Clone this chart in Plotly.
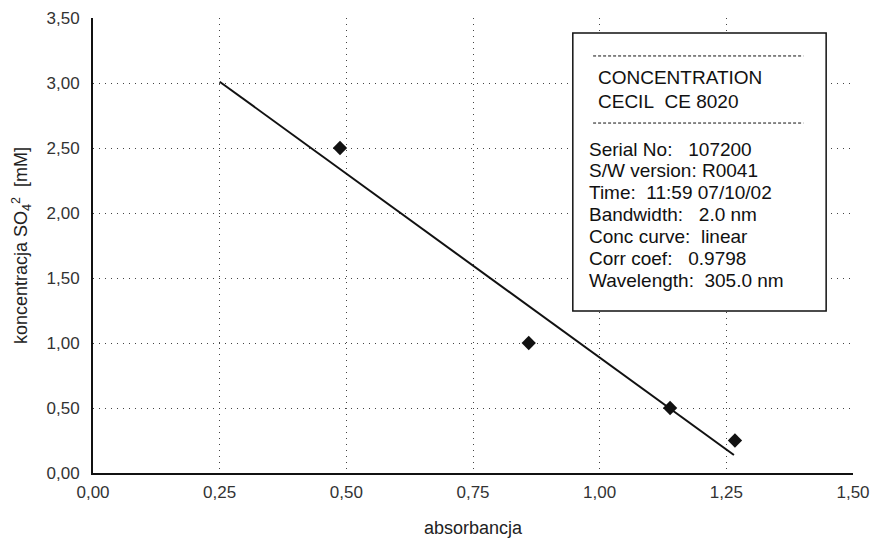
import plotly.graph_objects as go

# Measured samples: absorbance vs sulfate concentration
absorbance = [0.4875, 0.860, 1.139, 1.267]
concentration = [2.50, 1.00, 0.50, 0.25]

# Calibration line end points
fit_x = [0.25, 1.265]
fit_y = [3.01, 0.138]

x_ticks = [0.0, 0.25, 0.5, 0.75, 1.0, 1.25, 1.5]
x_tick_labels = ["0,00", "0,25", "0,50", "0,75", "1,00", "1,25", "1,50"]
y_ticks = [0.0, 0.5, 1.0, 1.5, 2.0, 2.5, 3.0, 3.5]
y_tick_labels = ["0,00", "0,50", "1,00", "1,50", "2,00", "2,50", "3,00", "3,50"]

info_header = ["CONCENTRATION", "CECIL\u00a0\u00a0CE 8020"]
info_lines = [
    "Serial No:\u00a0\u00a0\u00a0107200",
    "S/W version: R0041",
    "Time:\u00a0\u00a011:59 07/10/02",
    "Bandwidth:\u00a0\u00a0\u00a02.0 nm",
    "Conc curve:\u00a0\u00a0linear",
    "Corr coef:\u00a0\u00a0\u00a00.9798",
    "Wavelength:\u00a0\u00a0305.0 nm",
]

FONT = "Liberation Sans, Arial, sans-serif"

fig = go.Figure()
fig.add_trace(go.Scatter(
    x=fit_x, y=fit_y, mode="lines",
    line=dict(color="#111", width=2), showlegend=False, hoverinfo="skip",
))
fig.add_trace(go.Scatter(
    x=absorbance, y=concentration, mode="markers",
    marker=dict(symbol="diamond", size=11, color="#111"), showlegend=False,
))

# Info box in data coordinates
box_x0, box_x1 = 0.947, 1.447
box_y0, box_y1 = 1.246, 3.385
fig.add_shape(type="rect", x0=box_x0, x1=box_x1, y0=box_y0, y1=box_y1,
              xref="x", yref="y", line=dict(color="#111", width=1.5),
              fillcolor="white", layer="above")
for yy in (3.208, 2.692):
    fig.add_shape(type="line", x0=0.987, x1=1.402, y0=yy, y1=yy,
                  xref="x", yref="y", line=dict(color="#111", width=1, dash="3px,2px"),
                  layer="above")

annotations = []
for i, t in enumerate(info_header):
    annotations.append(dict(x=0.993, y=3.046 - i * 0.185, text=t, xref="x", yref="y",
                            xanchor="left", yanchor="middle", showarrow=False,
                            font=dict(family=FONT, size=19, color="#111")))
for i, t in enumerate(info_lines):
    annotations.append(dict(x=0.975, y=2.492 - i * 0.168, text=t, xref="x", yref="y",
                            xanchor="left", yanchor="middle", showarrow=False,
                            font=dict(family=FONT, size=19, color="#111")))

fig.update_layout(
    width=874, height=543,
    margin=dict(l=93, r=21, t=18, b=70),
    paper_bgcolor="white", plot_bgcolor="white",
    font=dict(family=FONT, size=17, color="#333"),
    annotations=annotations,
    xaxis=dict(
        range=[0, 1.5], tickvals=x_ticks, ticktext=x_tick_labels,
        showgrid=True, gridcolor="#444", griddash="1px,5px", gridwidth=1,
        showline=True, linecolor="#111", linewidth=2, ticks="", ticklen=0,
        ticklabelstandoff=3, automargin=False,
        zeroline=False, tickfont=dict(size=17, color="#333"),
        title=dict(text="absorbancja", font=dict(size=18, color="#222"), standoff=20),
    ),
    yaxis=dict(
        range=[0, 3.5], tickvals=y_ticks, ticktext=y_tick_labels,
        showgrid=True, gridcolor="#444", griddash="1px,5px", gridwidth=1,
        showline=True, linecolor="#111", linewidth=2, ticks="", ticklen=0,
        ticklabelstandoff=8, automargin=False,
        zeroline=False, tickfont=dict(size=17, color="#333"),
        title=dict(text="koncentracja SO<sub>4</sub><sup>2</sup>\u00a0\u00a0[mM]",
                   font=dict(size=18, color="#222"), standoff=14),
    ),
)

fig.write_html("out.html")
